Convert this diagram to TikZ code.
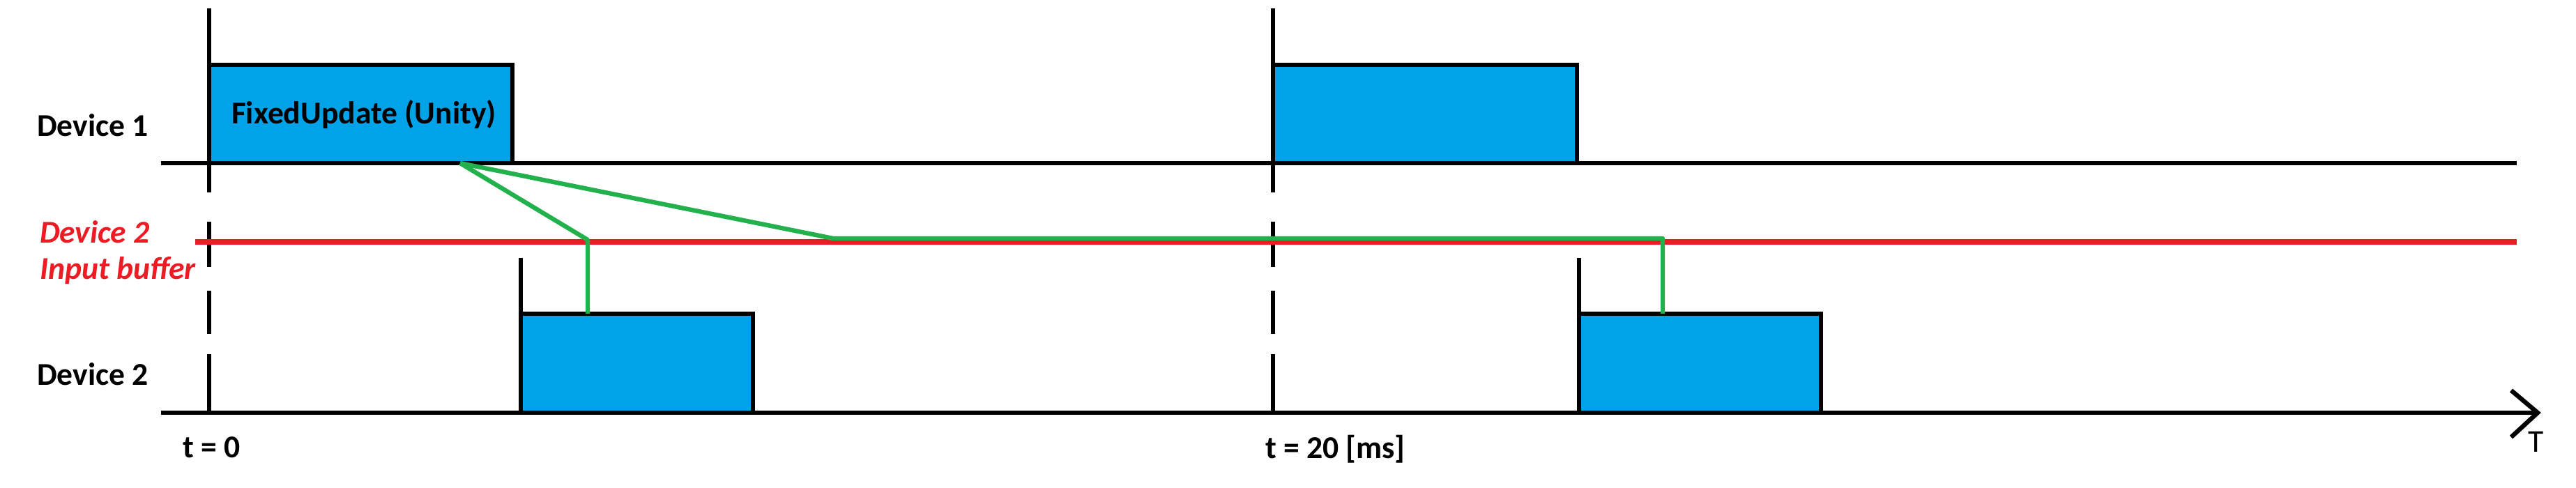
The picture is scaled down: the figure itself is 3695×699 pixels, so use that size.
\documentclass[tikz,border=0pt]{standalone}
\usepackage{fontspec}
\setmainfont{Carlito}
\definecolor{boxblue}{HTML}{00A2E8}
\definecolor{bufred}{HTML}{ED1C24}
\definecolor{msggreen}{HTML}{22B14C}
\tikzset{
  axisline/.style={draw=black, line width=1.6pt},
  tline/.style={draw=black, line width=1.3pt},
  taskbox/.style={draw=black, fill=boxblue, line width=1.6pt, rectangle, inner sep=0pt, outer sep=0pt, anchor=north west},
  bufline/.style={draw=bufred, line width=1.8pt},
  msgline/.style={draw=msggreen, line width=1.6pt, line join=round},
  lbl/.style={inner sep=0pt, outer sep=0pt, font=\fontsize{11.4}{13}\selectfont\bfseries},
  redlbl/.style={inner sep=0pt, outer sep=0pt, text=bufred, font=\fontsize{11.4}{13}\selectfont\bfseries\itshape},
}
\begin{document}
\begin{tikzpicture}[x=0.25pt, y=-0.25pt]
\useasboundingbox (0,0) rectangle (3695,699);
\fill[white] (0,0) rectangle (3695,699);

% time markers (t = 0 and t = 20)
\foreach \tx in {300,1826} {
  \draw[tline] (\tx,12) -- (\tx,276);
  \draw[tline] (\tx,318) -- (\tx,383);
  \draw[tline] (\tx,417) -- (\tx,479);
  \draw[tline] (\tx,508) -- (\tx,592);
}

% device axes
\draw[axisline] (231,234) -- (3610,234);
\draw[axisline] (231,592) -- (3640,592);
\draw[axisline, line join=miter] (3602,560) -- (3640,592) -- (3602,627);

% input buffer line
\draw[bufline] (280,347) -- (3610,347);

% Device 1 tasks
\node[taskbox, minimum width=108.75pt, minimum height=35.25pt] (b1) at (300,93) {};
\node[taskbox, minimum width=109pt, minimum height=35.25pt] (b3) at (1826,93) {};

% Device 2 tasks
\draw[tline] (747,370) -- (747,450);
\draw[tline] (2265,370) -- (2265,450);
\node[taskbox, minimum width=83.25pt, minimum height=35.5pt] (b2) at (747,450) {};
\node[taskbox, minimum width=86.75pt, minimum height=35.5pt] (b4) at (2265,450) {};

% messages
\coordinate (src) at (660,234);
\coordinate (k1) at (843,344);
\coordinate (k2) at (1195,342);
\coordinate (k3) at (2385,342);
\draw[msgline] (src) -- (k1) -- (k1 |- b2.north);
\draw[msgline] (src) -- (k2) -- (k3) -- (k3 |- b4.north);

% labels
\node[lbl, anchor=base] (fu) at (522,177) {FixedUpdate (Unity)};
\node[lbl, anchor=base west] (d1) at (53,195) {Device 1};
\node[redlbl, anchor=base west] (rb1) at (57,348) {Device 2};
\node[redlbl, anchor=base west] (rb2) at (57,400) {Input buffer};
\node[lbl, anchor=base west] (d2) at (53,552) {Device 2};
\node[lbl, anchor=base west] (t0) at (262,656) {t = 0};
\node[lbl, anchor=base west] (t20) at (1815,657) {t = 20 [ms]};
\node[inner sep=0pt, font=\fontsize{11.4}{13}\selectfont, anchor=base] (T) at (3638,648) {T};
\end{tikzpicture}
\end{document}
